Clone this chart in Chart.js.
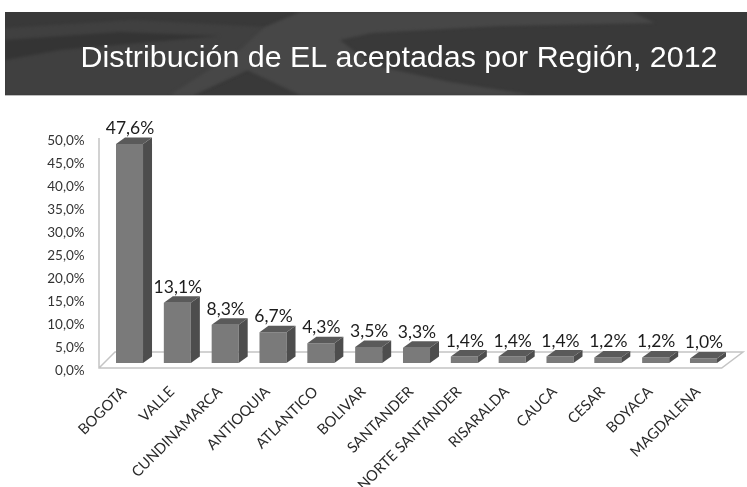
<!DOCTYPE html>
<html>
<head>
<meta charset="utf-8">
<script src="https://cdn.jsdelivr.net/npm/chart.js@4"></script>
<style>
	html, body { margin: 0; padding: 0; background: #fff; overflow: hidden; }
	#wrap { position: relative; width: 747px; height: 487px; }
	canvas { filter: blur(0.4px); }
</style>
</head>
<body>
<div id="wrap"><canvas id="regionChart" width="747" height="487"></canvas></div>
<script>
const titleText = 'Distribución de EL aceptadas por Región, 2012';
const regions = ['BOGOTA', 'VALLE', 'CUNDINAMARCA', 'ANTIOQUIA', 'ATLANTICO', 'BOLIVAR', 'SANTANDER',
	'NORTE SANTANDER', 'RISARALDA', 'CAUCA', 'CESAR', 'BOYACA', 'MAGDALENA'];
const shares = [47.6, 13.1, 8.3, 6.7, 4.3, 3.5, 3.3, 1.4, 1.4, 1.4, 1.2, 1.2, 1.0];

const fmt = v => v.toFixed(1).replace('.', ',') + '%';

function fillShape(ctx, color, pts) {
	ctx.fillStyle = color;
	ctx.beginPath();
	pts.forEach((p, i) => i ? ctx.lineTo(p[0], p[1]) : ctx.moveTo(p[0], p[1]));
	ctx.closePath();
	ctx.fill();
}

// Dark slide header behind the title
const bannerPlugin = {
	id: 'banner',
	afterLayout(chart) {
		// title sits right of the page centre
		chart.titleBlock.left += 15.3;
		chart.titleBlock.right += 15.3;
	},
	beforeDraw(chart) {
		const ctx = chart.ctx;
		ctx.save();
		ctx.fillStyle = '#393939';
		ctx.fillRect(5, 12, 742, 83);
		ctx.beginPath();
		ctx.rect(5, 12, 742, 83);
		ctx.clip();
		ctx.filter = 'blur(1.5px)';
		fillShape(ctx, '#404040', [[5, 28], [135, 20], [265, 27], [340, 40], [247, 70], [193, 95], [5, 95]]);
		fillShape(ctx, '#343434', [[5, 40], [120, 32], [220, 36], [150, 42], [60, 50], [5, 60]]);
		fillShape(ctx, '#474747', [[300, 12], [632, 12], [655, 23], [500, 26], [372, 33], [340, 40], [372, 65], [450, 82], [532, 95],
			[300, 95], [247, 70], [193, 95], [170, 95], [240, 50], [265, 27]]);
		ctx.restore();
		ctx.fillStyle = '#bdbdbd';
		ctx.fillRect(5, 95, 742, 1);
	}
};

// Back wall line and floor of the 3D look
const floorPlugin = {
	id: 'floor',
	beforeDatasetsDraw(chart) {
		const { ctx, chartArea } = chart;
		const left = chartArea.left - 6.6, front = chartArea.bottom - 2.5;
		ctx.save();
		ctx.strokeStyle = '#c4c4c4';
		ctx.lineWidth = 1.5;
		ctx.beginPath();
		ctx.moveTo(left, 138);
		ctx.lineTo(left, front);
		ctx.lineTo(chartArea.right - 5.7, front);
		ctx.lineTo(743, front - 16);
		ctx.lineTo(left + 16, front - 16);
		ctx.lineTo(left, front);
		ctx.stroke();
		ctx.restore();
	}
};

// Side and top faces of each bar, plus the value label above it
const depthPlugin = {
	id: 'depth',
	afterDatasetsDraw(chart) {
		const ctx = chart.ctx;
		const dx = 9, dy = 6.5;
		chart.getDatasetMeta(0).data.forEach((bar, i) => {
			const l = bar.x - bar.width / 2, r = bar.x + bar.width / 2;
			fillShape(ctx, '#4d4d4d', [[r, bar.y], [r + dx, bar.y - dy], [r + dx, bar.base - dy], [r, bar.base]]);
			fillShape(ctx, '#5a5a5a', [[l, bar.y], [l + dx, bar.y - dy], [r + dx, bar.y - dy], [r, bar.y]]);
			ctx.fillStyle = '#1c1c1c';
			ctx.font = '17.5px Lato';
			ctx.textAlign = 'center';
			ctx.textBaseline = 'alphabetic';
			ctx.fillText(fmt(shares[i]), bar.x + 0.5, bar.y - 10);
		});
	}
};

new Chart(document.getElementById('regionChart'), {
	type: 'bar',
	data: {
		labels: regions,
		datasets: [{
			data: shares,
			yAxisID: 'yBars',
			backgroundColor: '#7a7a7a',
			borderWidth: 0,
			barPercentage: 0.565,
			categoryPercentage: 1
		}]
	},
	plugins: [bannerPlugin, floorPlugin, depthPlugin],
	options: {
		responsive: false,
		animation: false,
		layout: { padding: { left: 40, right: 19.6, top: 0, bottom: 0 } },
		plugins: {
			legend: { display: false },
			tooltip: { enabled: false },
			title: {
				display: true,
				text: titleText,
				color: '#ffffff',
				font: { family: 'Liberation Sans', size: 30.4, weight: 'normal', lineHeight: 1.2 },
				padding: { top: 40.5, bottom: 53 }
			}
		},
		scales: {
			x: {
				grid: { display: false, drawTicks: false },
				border: { display: false },
				ticks: {
					autoSkip: false,
					minRotation: 45,
					maxRotation: 45,
					padding: 12.5,
					labelOffset: -5.5,
					color: '#2a2a2a',
					font: { family: 'Lato', size: 14.7 }
				},
				afterFit: scale => { scale.height = 116.5; }
			},
			// tick labels sit a little lower than the bars' base, so they get their own axis
			y: {
				position: 'left',
				min: 0,
				max: 52.28,
				grid: { display: false, drawTicks: false },
				border: { display: false },
				ticks: {
					stepSize: 5,
					includeBounds: false,
					padding: 21,
					color: '#333333',
					font: { family: 'Lato', size: 13.5 },
					callback: v => fmt(v)
				},
				afterFit: scale => { scale.width = 65.6; }
			},
			yBars: {
				display: false,
				min: -1.63,
				max: 50.65
			}
		}
	}
});
</script>
</body>
</html>
